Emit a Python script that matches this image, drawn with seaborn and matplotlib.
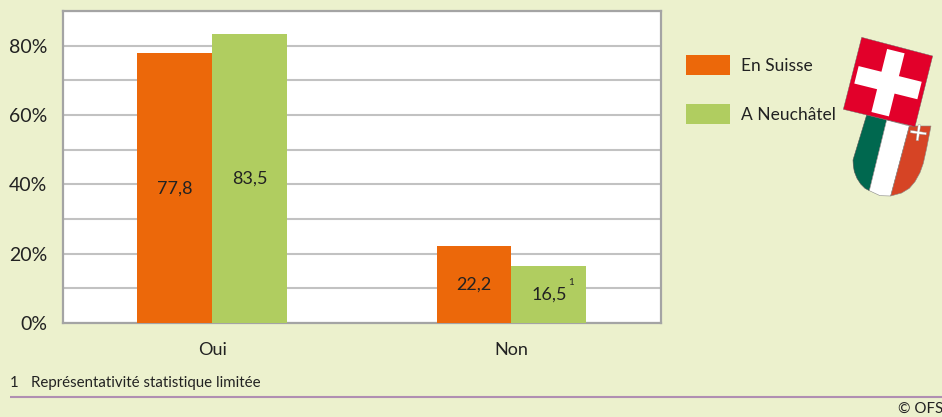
import numpy as np
import pandas as pd
import matplotlib
matplotlib.use("Agg")
import matplotlib.pyplot as plt
from matplotlib.patches import Polygon
import seaborn as sns

categories = ["Oui", "Non"]
series_names = ["En Suisse", "A Neuchâtel"]
en_suisse = [77.8, 22.2]
a_neuchatel = [83.5, 16.5]
value_labels_suisse = ["77,8", "22,2"]
value_labels_neuchatel = ["83,5", "16,5"]
y_major = [0, 20, 40, 60, 80, 90]
y_major_labels = ["0%", "20%", "40%", "60%", "80%", ""]
y_minor = [10, 30, 50, 70]

BG = "#ecf1cd"
ORANGE = "#ec680a"
GREEN = "#b0cd60"
W, H = 942, 417

sns.set_theme(style="white")
plt.rcParams["font.family"] = ["Lato", "DejaVu Sans"]
plt.rcParams["text.color"] = "#222222"

df = pd.DataFrame({
    "cat": categories * 2,
    "serie": [series_names[0]] * 2 + [series_names[1]] * 2,
    "val": en_suisse + a_neuchatel,
})

fig = plt.figure(figsize=(W / 100, H / 100), dpi=100, facecolor=BG)
ax = fig.add_axes([62.5 / W, 1 - 323 / H, (661 - 62.5) / W, (323 - 11) / H])
ax.set_facecolor("white")
sns.barplot(data=df, x="cat", y="val", hue="serie", order=categories,
            hue_order=series_names, palette=[ORANGE, GREEN],
            width=0.5, gap=0, dodge=True, saturation=1, legend=False,
            errorbar=None, ax=ax, zorder=3, linewidth=0, edgecolor="none")
ax.set_xlabel("")
ax.set_ylabel("")
ax.set_ylim(0, 90)
ax.set_xlim(-0.5, 1.5)
ax.set_yticks(y_major)
ax.set_yticklabels(y_major_labels)
ax.set_yticks(y_minor, minor=True)
ax.tick_params(axis="y", which="major", length=5, width=1.5, color="#a8a8a8",
               labelsize=14, labelcolor="#222222", pad=6)
ax.tick_params(axis="y", which="minor", length=0)
ax.tick_params(axis="x", length=0, labelsize=13, labelcolor="#222222", pad=13.5)
ax.grid(True, axis="y", which="both", color="#c2c2c2", linewidth=1.5, zorder=0)
ax.set_axisbelow(True)
for s in ax.spines.values():
    s.set_visible(True)
    s.set_color("#a4a4a4")
    s.set_linewidth(1.6)

ax.bar_label(ax.containers[0], labels=value_labels_suisse, label_type="center",
             fontsize=13, color="#222222")
ax.bar_label(ax.containers[1], labels=value_labels_neuchatel, label_type="center",
             fontsize=13, color="#222222")
sup_bar = ax.containers[1][1]
ax.annotate("1", xy=(sup_bar.get_x() + sup_bar.get_width() / 2, sup_bar.get_height() / 2),
            xytext=(22, 12), textcoords="offset pixels", ha="center", va="center",
            fontsize=7, color="#222222")

handles = list(ax.containers[0][:1]) + list(ax.containers[1][:1])
fig.legend(handles, series_names, loc="upper left",
           bbox_to_anchor=(686 / W, 1 - 55 / H), frameon=False, fontsize=12.5,
           handlelength=2.53, handleheight=1.395, handletextpad=0.63,
           labelspacing=1.66, borderpad=0, borderaxespad=0,
           labelcolor="#222222")

# Decorative layer in pixel coordinates: emblems and footer rule
deco = fig.add_axes([0, 0, 1, 1], zorder=5)
deco.set_xlim(0, W)
deco.set_ylim(H, 0)
deco.axis("off")
deco.patch.set_alpha(0)


def z(points):
    return [(660 + x / 3, 20 + y / 3) for x, y in points]


def cross(cx, cy, half_len, half_w, deg):
    pts = [(-half_w, -half_len), (half_w, -half_len), (half_w, -half_w),
           (half_len, -half_w), (half_len, half_w), (half_w, half_w),
           (half_w, half_len), (-half_w, half_len), (-half_w, half_w),
           (-half_len, half_w), (-half_len, -half_w), (-half_w, -half_w)]
    t = np.radians(deg)
    return [(cx + x * np.cos(t) - y * np.sin(t), cy + x * np.sin(t) + y * np.cos(t))
            for x, y in pts]


green_part = [(620, 285), (680, 300), (628, 512), (615, 505), (602, 492), (591, 475),
              (583, 455), (580, 437), (579, 420)]
white_part = [(680, 300), (748, 318), (692, 528), (660, 527), (628, 512)]
red_part = [(748, 318), (813, 318), (800, 385), (790, 430), (780, 458), (765, 485),
            (748, 505), (725, 519), (692, 528)]
deco.add_patch(Polygon(z(green_part), closed=True, fc="#00684f", ec="#555555", lw=0.4))
deco.add_patch(Polygon(z(white_part), closed=True, fc="white", ec="#888888", lw=0.4))
deco.add_patch(Polygon(z(red_part), closed=True, fc="#d64425", ec="#888888", lw=0.4))
small = z([(775, 338)])[0]
deco.add_patch(Polygon(cross(small[0], small[1], 8, 1.2, 8), closed=True, fc="white",
                       ec="#999999", lw=0.3))
deco.add_patch(Polygon(z([(605, 52), (818, 108), (765, 320), (550, 268)]), closed=True,
                       fc="#e2002a", ec="#666666", lw=0.3))
centre = z([(684, 188)])[0]
deco.add_patch(Polygon(cross(centre[0], centre[1], 32.5, 9, 14), closed=True, fc="white", ec="none"))

deco.plot([10, W], [396.7, 396.7], color="#b08fb2", lw=1.5, solid_capstyle="butt")
deco.text(10, 383, "1", fontsize=10.8, va="center", ha="left", color="#222222")
deco.text(31, 383, "Représentativité statistique limitée", fontsize=10.8, va="center",
          ha="left", color="#222222")
deco.text(898, 409, "© OFS", fontsize=10.8, va="center", ha="left", color="#222222", clip_on=False)

fig.savefig("out.png", dpi=100, facecolor=BG)
